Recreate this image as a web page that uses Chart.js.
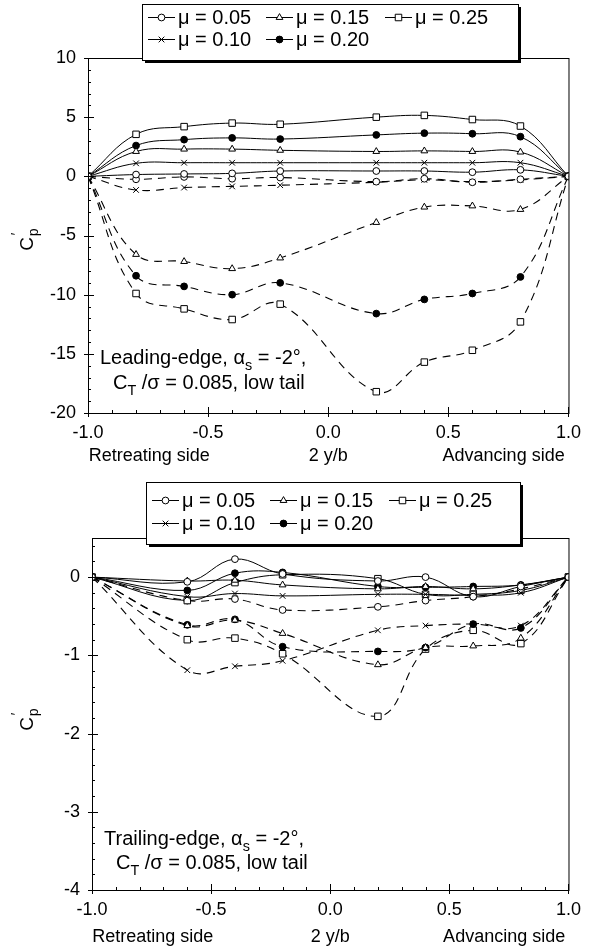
<!DOCTYPE html>
<html>
<head>
<meta charset="utf-8">
<script src="https://cdn.jsdelivr.net/npm/chart.js@4.4.1/dist/chart.umd.min.js"></script>
<style>
  html, body { margin: 0; padding: 0; background: #fff; }
  #wrap { position: relative; width: 590px; height: 951px; }
  canvas { position: absolute; left: 0; }
</style>
</head>
<body>
<div id="wrap">
  <canvas id="leading" width="590" height="470" style="top:0"></canvas>
  <canvas id="trailing" width="590" height="481" style="top:470px"></canvas>
</div>
<script>
const FONT = '"Liberation Sans", Arial, Helvetica, sans-serif';

// spanwise stations 2y/b
const leadStations = [-1.0, -0.8, -0.6, -0.4, -0.2, 0.2, 0.4, 0.6, 0.8, 1.0];
const trailStations = [-1.0, -0.6, -0.4, -0.2, 0.2, 0.4, 0.6, 0.8, 1.0];

const muLabels = ['μ = 0.05', 'μ = 0.10', 'μ = 0.15', 'μ = 0.20', 'μ = 0.25'];
const muMarkers = ['circle', 'crossRot', 'triangle', 'circle', 'rect'];
const muFilled = [false, false, false, true, false];

const xTicks = [-1.0, -0.5, 0.0, 0.5, 1.0];
const leadYTicks = [-20, -15, -10, -5, 0, 5, 10];
const trailYTicks = [-4, -3, -2, -1, 0];

// leading edge, solid curves (mu = 0.05 .. 0.25)
const leadSolid05 = [0, 0.15, 0.2, 0.25, 0.45, 0.45, 0.45, 0.35, 0.55, 0];
const leadSolid10 = [0, 1.1, 1.15, 1.15, 1.15, 1.15, 1.15, 1.15, 1.15, 0];
const leadSolid15 = [0, 2.1, 2.3, 2.3, 2.2, 2.1, 2.15, 2.1, 2.05, 0];
const leadSolid20 = [0, 2.6, 3.1, 3.25, 3.15, 3.5, 3.65, 3.6, 3.35, 0];
const leadSolid25 = [0, 3.55, 4.2, 4.5, 4.4, 5.0, 5.15, 4.8, 4.25, 0];
// leading edge, dashed curves
const leadDash05 = [0, -0.25, -0.05, -0.2, -0.1, -0.45, -0.2, -0.5, -0.25, 0];
const leadDash10 = [0, -1.15, -0.95, -0.85, -0.75, -0.5, -0.3, -0.45, -0.3, 0];
const leadDash15 = [0, -6.6, -7.2, -7.8, -6.9, -3.9, -2.6, -2.5, -2.8, 0];
const leadDash20 = [0, -8.4, -9.3, -10.0, -9.0, -11.6, -10.4, -9.9, -8.5, 0];
const leadDash25 = [0, -9.9, -11.2, -12.1, -10.8, -18.2, -15.7, -14.7, -12.3, 0];

// trailing edge, solid curves
const trailSolid05 = [0, -0.06, 0.23, 0.04, -0.05, 0.0, -0.25, -0.12, 0];
const trailSolid10 = [0, -0.25, -0.21, -0.24, -0.22, -0.22, -0.23, -0.2, 0];
const trailSolid15 = [0, -0.05, -0.04, -0.1, -0.15, -0.12, -0.15, -0.1, 0];
const trailSolid20 = [0, -0.17, 0.05, 0.06, -0.12, -0.13, -0.12, -0.1, 0];
const trailSolid25 = [0, -0.3, -0.07, 0.03, -0.02, -0.22, -0.22, -0.17, 0];
// trailing edge, dashed curves
const trailDash05 = [0, -0.3, -0.28, -0.42, -0.38, -0.3, -0.25, -0.15, 0];
const trailDash10 = [0, -1.19, -1.14, -1.07, -0.68, -0.62, -0.6, -0.62, 0];
const trailDash15 = [0, -0.62, -0.55, -0.72, -1.12, -0.9, -0.88, -0.78, 0];
const trailDash20 = [0, -0.61, -0.54, -0.89, -0.95, -0.9, -0.6, -0.65, 0];
const trailDash25 = [0, -0.8, -0.78, -0.98, -1.78, -0.92, -0.68, -0.85, 0];

function pointStyleFor(i) {
  const m = muMarkers[i];
  return {
    pointStyle: m,
    pointRadius: m === 'crossRot' ? 4 : m === 'triangle' ? 3.9 : m === 'rect' ? 4.6 : 3.4,
    pointBackgroundColor: muFilled[i] ? '#000' : '#fff',
    pointBorderColor: '#000',
    pointBorderWidth: 1
  };
}

function buildDatasets(stations, solid, dashed) {
  const sets = [];
  solid.forEach((vals, i) => {
    sets.push(Object.assign({
      label: muLabels[i],
      data: stations.map((x, k) => ({ x: x, y: vals[k] })),
      borderColor: '#000', borderWidth: 1, tension: 0.4, fill: false
    }, pointStyleFor(i)));
  });
  dashed.forEach((vals, i) => {
    sets.push(Object.assign({
      label: muLabels[i] + ' (dashed)',
      data: stations.map((x, k) => ({ x: x, y: vals[k] })),
      borderColor: '#000', borderWidth: 1.1, borderDash: [8, 6], tension: 0.4, fill: false
    }, pointStyleFor(i)));
  });
  return sets;
}

function drawRich(ctx, parts, x, y, size) {
  parts.forEach(p => {
    const t = p[0], kind = p[1];
    const fs = kind ? size * 0.72 : size;
    ctx.font = fs + 'px ' + FONT;
    const dy = kind === 'sub' ? size * 0.32 : 0;
    ctx.fillText(t, x, y + dy);
    x += ctx.measureText(t).width;
  });
}

// frame, inward ticks, legend box, notes and axis titles
function decorPlugin(cfg) {
  return {
    id: 'decor',
    afterDraw(chart) {
      const ctx = chart.ctx, a = chart.chartArea;
      const xs = chart.scales.x, ys = chart.scales.y;
      ctx.save();
      ctx.strokeStyle = '#000';
      ctx.fillStyle = '#000';
      ctx.lineWidth = 1;
      ctx.strokeRect(a.left + 0.5, a.top + 0.5, a.right - a.left, a.bottom - a.top);

      // y ticks
      ctx.beginPath();
      for (let v = cfg.yMin; v <= cfg.yMax + 1e-9; v += cfg.yMinor) {
        const py = Math.round(ys.getPixelForValue(v)) + 0.5;
        const major = Math.abs(v / cfg.yMajor - Math.round(v / cfg.yMajor)) < 1e-6;
        ctx.moveTo(a.left - (major ? 4 : 0), py);
        ctx.lineTo(a.left + (major ? 6 : 3), py);
      }
      // x ticks
      for (let v = -1.0; v <= 1.0 + 1e-9; v += 0.1) {
        const px = Math.round(xs.getPixelForValue(v)) + 0.5;
        const major = Math.abs(v * 2 - Math.round(v * 2)) < 1e-6;
        ctx.moveTo(px, a.bottom + (major ? 4 : 0));
        ctx.lineTo(px, a.bottom - (major ? 6 : 3));
      }
      ctx.stroke();

      // x axis titles
      ctx.font = '18px ' + FONT;
      ctx.textAlign = 'center';
      ctx.textBaseline = 'middle';
      ctx.fillText('Retreating side', xs.getPixelForValue(-0.745), cfg.xTitleY);
      ctx.fillText('2 y/b', xs.getPixelForValue(0), cfg.xTitleY);
      ctx.fillText('Advancing side', xs.getPixelForValue(0.73), cfg.xTitleY);

      // y axis title C'p
      ctx.save();
      ctx.translate(cfg.yTitle.x, cfg.yTitle.y);
      ctx.rotate(-Math.PI / 2);
      ctx.textAlign = 'left';
      ctx.textBaseline = 'alphabetic';
      ctx.font = '19px ' + FONT;
      const cw = ctx.measureText('C').width;
      ctx.fillText('C', -cw / 2 - 4, 6);
      ctx.font = '14px ' + FONT;
      ctx.fillText('p', cw / 2 - 3, 11);
      ctx.fillText('\u2032', cw / 2 - 2, -6);
      ctx.restore();

      // notes
      ctx.textAlign = 'left';
      ctx.textBaseline = 'alphabetic';
      cfg.notes.forEach(n => drawRich(ctx, n.parts, n.x, n.y, 20));

      // legend box with a drop shadow
      const b = cfg.legendBox;
      ctx.fillStyle = '#000';
      ctx.fillRect(b.x + 3, b.y + 3, b.w, b.h);
      ctx.fillStyle = '#fff';
      ctx.fillRect(b.x, b.y, b.w, b.h);
      ctx.strokeRect(b.x + 0.5, b.y + 0.5, b.w, b.h);
      chart.data.datasets.slice(0, muLabels.length).forEach((ds, i) => {
        const lx = cfg.legendCols[Math.floor(i / 2)];
        const ly = cfg.legendRows[i % 2];
        ctx.strokeStyle = '#000';
        ctx.lineWidth = 1;
        ctx.beginPath();
        ctx.moveTo(lx, ly + 0.5);
        ctx.lineTo(lx + 27, ly + 0.5);
        ctx.stroke();
        ctx.fillStyle = ds.pointBackgroundColor;
        ctx.strokeStyle = '#000';
        Chart.helpers.drawPoint(ctx, {
          pointStyle: ds.pointStyle, radius: ds.pointRadius, borderWidth: 1, rotation: 0
        }, lx + 13.5, ly + 0.5);
        ctx.fillStyle = '#000';
        ctx.font = '20px ' + FONT;
        ctx.textBaseline = 'middle';
        ctx.fillText(ds.label, lx + 30, ly + 1);
      });
      ctx.restore();
    }
  };
}

function makeChart(id, cfg) {
  const tickFont = { family: FONT, size: 18 };
  return new Chart(document.getElementById(id), {
    type: 'line',
    data: { datasets: cfg.datasets },
    options: {
      responsive: false,
      animation: false,
      events: [],
      layout: { padding: { left: 0, right: cfg.padRight, top: cfg.padTop, bottom: 0 } },
      plugins: { legend: { display: false }, tooltip: { enabled: false } },
      scales: {
        x: {
          type: 'linear', min: -1, max: 1,
          afterFit(s) { s.height = cfg.xAxisH; },
          afterBuildTicks(s) { s.ticks = xTicks.map(v => ({ value: v })); },
          ticks: { callback: v => v.toFixed(1), padding: cfg.xTickPad, color: '#000', font: tickFont, maxRotation: 0, autoSkip: false },
          grid: { display: false, drawTicks: false },
          border: { display: false }
        },
        y: {
          type: 'linear', min: cfg.yMin, max: cfg.yMax,
          afterFit(s) { s.width = cfg.yAxisW; },
          afterBuildTicks(s) { s.ticks = cfg.yTicks.map(v => ({ value: v })); },
          ticks: { padding: 12, color: '#000', font: tickFont, autoSkip: false },
          grid: { display: false, drawTicks: false },
          border: { display: false }
        }
      }
    },
    plugins: [decorPlugin(cfg)]
  });
}

makeChart('leading', {
  datasets: buildDatasets(leadStations,
    [leadSolid05, leadSolid10, leadSolid15, leadSolid20, leadSolid25],
    [leadDash05, leadDash10, leadDash15, leadDash20, leadDash25]),
  yMin: -20, yMax: 10, yTicks: leadYTicks, yMinor: 1, yMajor: 5,
  padTop: 58, padRight: 20, yAxisW: 88, xAxisH: 57, xTickPad: 9,
  xTitleY: 456,
  yTitle: { x: 27, y: 240 },
  legendBox: { x: 142, y: 4, w: 376, h: 56 },
  legendCols: [148, 266, 385],
  legendRows: [17, 39],
  notes: [
    { x: 100, y: 364, parts: [['Leading-edge, α'], ['s', 'sub'], [' = -2°,']] },
    { x: 113, y: 389, parts: [['C'], ['T', 'sub'], [' /σ = 0.085, low tail']] }
  ]
});

makeChart('trailing', {
  datasets: buildDatasets(trailStations,
    [trailSolid05, trailSolid10, trailSolid15, trailSolid20, trailSolid25],
    [trailDash05, trailDash10, trailDash15, trailDash20, trailDash25]),
  yMin: -4, yMax: 0.5, yTicks: trailYTicks, yMinor: 0.2, yMajor: 1,
  padTop: 68, padRight: 15, yAxisW: 92, xAxisH: 61, xTickPad: 9,
  xTitleY: 467,
  yTitle: { x: 27, y: 250 },
  legendBox: { x: 146, y: 12, w: 374, h: 62 },
  legendCols: [152, 270, 389],
  legendRows: [30, 53],
  notes: [
    { x: 104, y: 375, parts: [['Trailing-edge, α'], ['s', 'sub'], [' = -2°,']] },
    { x: 116, y: 399, parts: [['C'], ['T', 'sub'], [' /σ = 0.085, low tail']] }
  ]
});
</script>
</body>
</html>
